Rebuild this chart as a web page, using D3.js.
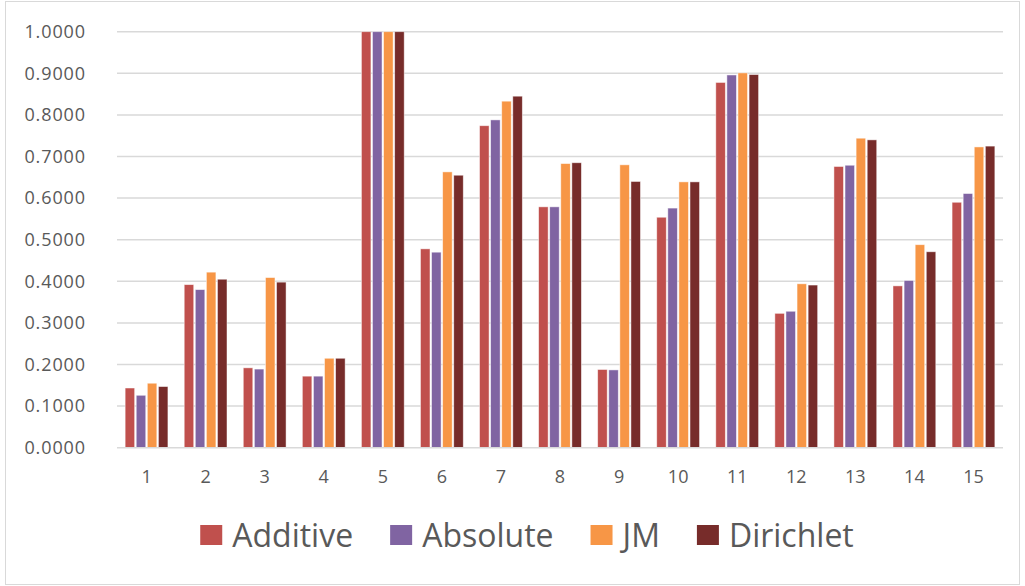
<!DOCTYPE html>
<html>
<head>
<meta charset="utf-8">
<script src="https://cdn.jsdelivr.net/npm/d3@7/dist/d3.min.js"></script>
<style>
  html, body { margin: 0; padding: 0; background: #fff; }
  svg { display: block; }
  text { font-family: "Open Sans", "Noto Sans", sans-serif; fill: #595959; }
</style>
</head>
<body>
<svg id="chart" width="1025" height="586"></svg>
<script>
// Categories (query / run index) and the four smoothing methods
const categories = ["1","2","3","4","5","6","7","8","9","10","11","12","13","14","15"];
const seriesNames = ["Additive", "Absolute", "JM", "Dirichlet"];
const seriesColors = ["#C0504D", "#8064A2", "#F79646", "#772C2A"];

const additive  = [0.1435, 0.392, 0.192, 0.172, 1.0, 0.478, 0.774, 0.579, 0.188, 0.554, 0.878, 0.323, 0.676, 0.389, 0.590];
const absolute  = [0.126, 0.380, 0.189, 0.172, 1.0, 0.470, 0.788, 0.579, 0.187, 0.576, 0.896, 0.328, 0.679, 0.402, 0.611];
const jm        = [0.155, 0.422, 0.409, 0.215, 1.0, 0.663, 0.833, 0.683, 0.680, 0.639, 0.901, 0.394, 0.744, 0.488, 0.723];
const dirichlet = [0.147, 0.405, 0.398, 0.215, 1.0, 0.655, 0.845, 0.685, 0.640, 0.639, 0.897, 0.391, 0.740, 0.471, 0.725];

const yTicks = [0, 0.1, 0.2, 0.3, 0.4, 0.5, 0.6, 0.7, 0.8, 0.9, 1.0];

const seriesValues = [additive, absolute, jm, dirichlet];

const svg = d3.select("#chart");
const W = 1025, H = 586;

// outer chart frame
svg.append("rect")
  .attr("x", 5.5).attr("y", 1.5)
  .attr("width", W - 11).attr("height", H - 3)
  .attr("fill", "#fff").attr("stroke", "#D9D9D9").attr("stroke-width", 1);

const plot = { left: 117, right: 1003, top: 31.7, bottom: 447.7 };

const y = d3.scaleLinear().domain([0, 1]).range([plot.bottom, plot.top]);
const x0 = d3.scaleBand().domain(categories).range([plot.left, plot.right]).padding(0);
const groupW = 42.8;
const x1 = d3.scaleBand().domain(seriesNames).range([0, groupW]).paddingInner(0.14).paddingOuter(0);

// horizontal gridlines
svg.append("g")
  .selectAll("line")
  .data(yTicks.filter(d => d > 0))
  .join("line")
  .attr("x1", plot.left).attr("x2", plot.right)
  .attr("y1", d => y(d)).attr("y2", d => y(d))
  .attr("stroke", "#D9D9D9").attr("stroke-width", 1.5);

// y axis labels
const yAxis = d3.axisLeft(y).tickValues(yTicks).tickFormat(d3.format(".4f")).tickSize(0).tickPadding(31);
const gy = svg.append("g").attr("transform", `translate(${plot.left},0)`).call(yAxis);
gy.select(".domain").remove();
gy.selectAll("text")
  .style("font-size", "18px")
  .style("letter-spacing", "0.9px")
  .attr("fill", "#595959")
  .attr("font-family", "Open Sans");

// bars
const groups = svg.append("g")
  .selectAll("g")
  .data(categories)
  .join("g")
  .attr("transform", d => `translate(${x0(d) + (x0.bandwidth() - groupW) / 2},0)`);

groups.selectAll("rect")
  .data((c, i) => seriesNames.map((s, k) => ({ s, k, v: seriesValues[k][i] })))
  .join("rect")
  .attr("x", d => x1(d.s))
  .attr("y", d => y(d.v))
  .attr("width", x1.bandwidth())
  .attr("height", d => y(0) - y(d.v))
  .attr("fill", d => seriesColors[d.k])
  .attr("stroke", "#fff")
  .attr("stroke-opacity", 0.6)
  .attr("stroke-width", 0.8);

// x axis baseline
svg.append("line")
  .attr("x1", plot.left).attr("x2", plot.right)
  .attr("y1", y(0)).attr("y2", y(0))
  .attr("stroke", "#D9D9D9").attr("stroke-width", 1.5);

// x axis labels
const xAxis = d3.axisBottom(x0).tickSize(0).tickPadding(23);
const gx = svg.append("g").attr("transform", `translate(0,${plot.bottom})`).call(xAxis);
gx.select(".domain").remove();
gx.selectAll("text")
  .style("font-size", "18px")
  .attr("fill", "#595959")
  .attr("font-family", "Open Sans");

// legend
const legend = svg.append("g");
const items = legend.selectAll("g").data(seriesNames).join("g");
items.append("rect")
  .attr("width", 22).attr("height", 20)
  .attr("y", 525)
  .attr("fill", (d, i) => seriesColors[i]);
items.append("text")
  .attr("x", 32).attr("y", 546.5)
  .style("font-size", "32px")
  .text(d => d);

let cursor = 0;
const widths = [];
items.each(function () {
  const w = d3.select(this).select("text").node().getComputedTextLength();
  widths.push(32 + w);
});
const gap = 37;
const total = d3.sum(widths) + gap * (widths.length - 1);
let start = 527 - total / 2;
items.attr("transform", (d, i) => {
  const t = `translate(${start},0)`;
  start += widths[i] + gap;
  return t;
});
</script>
</body>
</html>
